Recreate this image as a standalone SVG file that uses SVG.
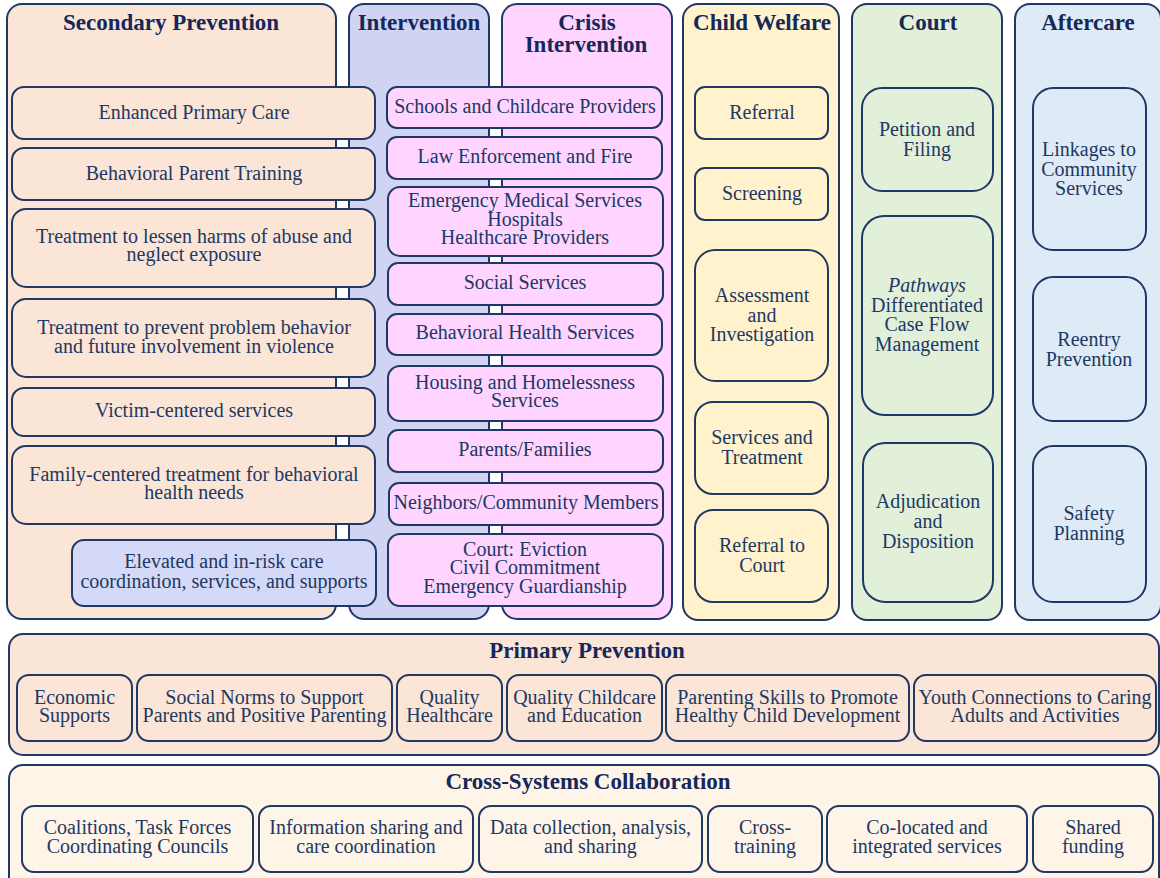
<svg xmlns="http://www.w3.org/2000/svg" width="1160" height="878" viewBox="0 0 1160 878">
<style>
.p{stroke:#203864;stroke-width:2}
.b{stroke:#203864;stroke-width:2}
.t{font-family:"Liberation Serif",serif;font-size:20px;fill:#203864;text-anchor:middle}
.h{font-family:"Liberation Serif",serif;font-size:23px;font-weight:bold;fill:#14285a;text-anchor:middle}
.sp{fill:#fbe5d6}.iv{fill:#d1d3f2}.ci{fill:#ffd5ff}.cw{fill:#fff2cc}.co{fill:#e2efd9}.af{fill:#deebf7}.cs{fill:#fef4e7}.el{fill:#d5d9f8}
</style>
<rect width="1160" height="878" fill="#ffffff"/>
<g id="panel-secondary"><rect class="p sp" x="7" y="4" width="329" height="615" rx="15"/><text class="h" x="171" y="30">Secondary Prevention</text></g>
<g id="panel-intervention"><rect class="p iv" x="349" y="4" width="140" height="615" rx="15"/><text class="h" x="419" y="30">Intervention</text></g>
<g id="panel-crisis"><rect class="p ci" x="502" y="4" width="170" height="615" rx="15"/><text class="h" x="587" y="30">Crisis</text><text class="h" x="586" y="52">Intervention</text></g>
<g id="panel-childwelfare"><rect class="p cw" x="683" y="4" width="156" height="616" rx="15"/><text class="h" x="762" y="30">Child Welfare</text></g>
<g id="panel-court"><rect class="p co" x="852" y="4" width="150" height="616" rx="15"/><text class="h" x="928" y="30">Court</text></g>
<g id="panel-aftercare"><rect class="p af" x="1015" y="4" width="146" height="616" rx="15"/><text class="h" x="1088" y="30">Aftercare</text></g>

<g id="sp1"><rect class="b sp" x="12" y="87" width="363" height="52" rx="12"/><text class="t" x="194" y="119">Enhanced Primary Care</text></g>
<g id="sp2"><rect class="b sp" x="12" y="148" width="363" height="52" rx="12"/><text class="t" x="194" y="180">Behavioral Parent Training</text></g>
<g id="sp3"><rect class="b sp" x="12" y="209" width="363" height="78" rx="14"/><text class="t" x="194" y="243">Treatment to lessen harms of abuse and</text><text class="t" x="194" y="261">neglect exposure</text></g>
<g id="sp4"><rect class="b sp" x="12" y="299" width="363" height="78" rx="14"/><text class="t" x="194" y="334">Treatment to prevent problem behavior</text><text class="t" x="194" y="353">and future involvement in violence</text></g>
<g id="sp5"><rect class="b sp" x="12" y="388" width="363" height="48" rx="12"/><text class="t" x="194" y="417">Victim-centered services</text></g>
<g id="sp6"><rect class="b sp" x="12" y="446" width="363" height="78" rx="14"/><text class="t" x="194" y="481">Family-centered treatment for behavioral</text><text class="t" x="194" y="499">health needs</text></g>
<g id="sp7"><rect class="b el" x="72" y="540" width="304" height="66" rx="12"/><text class="t" x="224" y="568">Elevated and in-risk care</text><text class="t" x="224" y="588">coordination, services, and supports</text></g>

<g id="ci1"><rect class="b ci" x="387" y="87" width="275" height="41" rx="10"/><text class="t" x="525" y="113">Schools and Childcare Providers</text></g>
<g id="ci2"><rect class="b ci" x="387" y="137" width="275" height="42" rx="10"/><text class="t" x="525" y="163">Law Enforcement and Fire</text></g>
<g id="ci3"><rect class="b ci" x="388" y="187" width="275" height="69" rx="12"/><text class="t" x="525" y="207">Emergency Medical Services</text><text class="t" x="525" y="226">Hospitals</text><text class="t" x="525" y="244">Healthcare Providers</text></g>
<g id="ci4"><rect class="b ci" x="388" y="263" width="275" height="42" rx="10"/><text class="t" x="525" y="289">Social Services</text></g>
<g id="ci5"><rect class="b ci" x="387" y="314" width="275" height="41" rx="10"/><text class="t" x="525" y="339">Behavioral Health Services</text></g>
<g id="ci6"><rect class="b ci" x="388" y="366" width="275" height="55" rx="12"/><text class="t" x="525" y="389">Housing and Homelessness</text><text class="t" x="525" y="407">Services</text></g>
<g id="ci7"><rect class="b ci" x="388" y="430" width="275" height="42" rx="10"/><text class="t" x="525" y="456">Parents/Families</text></g>
<g id="ci8"><rect class="b ci" x="389" y="483" width="274" height="42" rx="10"/><text class="t" x="526" y="509">Neighbors/Community Members</text></g>
<g id="ci9"><rect class="b ci" x="388" y="534" width="275" height="72" rx="12"/><text class="t" x="525" y="556">Court: Eviction</text><text class="t" x="525" y="574">Civil Commitment</text><text class="t" x="525" y="593">Emergency Guardianship</text></g>

<g id="cw1"><rect class="b cw" x="695" y="87" width="133" height="52" rx="10"/><text class="t" x="762" y="119">Referral</text></g>
<g id="cw2"><rect class="b cw" x="695" y="168" width="133" height="52" rx="10"/><text class="t" x="762" y="200">Screening</text></g>
<g id="cw3"><rect class="b cw" x="695" y="250" width="133" height="131" rx="20"/><text class="t" x="762" y="302">Assessment</text><text class="t" x="762" y="322">and</text><text class="t" x="762" y="341">Investigation</text></g>
<g id="cw4"><rect class="b cw" x="695" y="402" width="133" height="92" rx="18"/><text class="t" x="762" y="444">Services and</text><text class="t" x="762" y="464">Treatment</text></g>
<g id="cw5"><rect class="b cw" x="695" y="510" width="133" height="92" rx="18"/><text class="t" x="762" y="552">Referral to</text><text class="t" x="762" y="572">Court</text></g>

<g id="co1"><rect class="b co" x="862" y="88" width="131" height="103" rx="20"/><text class="t" x="927" y="136">Petition and</text><text class="t" x="927" y="156">Filing</text></g>
<g id="co2"><rect class="b co" x="862" y="216" width="131" height="199" rx="22"/><text class="t" x="927" y="292" font-style="italic">Pathways</text><text class="t" x="927" y="312">Differentiated</text><text class="t" x="927" y="331">Case Flow</text><text class="t" x="927" y="351">Management</text></g>
<g id="co3"><rect class="b co" x="863" y="443" width="130" height="159" rx="22"/><text class="t" x="928" y="508">Adjudication</text><text class="t" x="928" y="528">and</text><text class="t" x="928" y="548">Disposition</text></g>

<g id="af1"><rect class="b af" x="1033" y="88" width="113" height="162" rx="20"/><text class="t" x="1089" y="156">Linkages to</text><text class="t" x="1089" y="176">Community</text><text class="t" x="1089" y="195">Services</text></g>
<g id="af2"><rect class="b af" x="1033" y="277" width="113" height="144" rx="20"/><text class="t" x="1089" y="346">Reentry</text><text class="t" x="1089" y="366">Prevention</text></g>
<g id="af3"><rect class="b af" x="1033" y="446" width="113" height="156" rx="20"/><text class="t" x="1089" y="520">Safety</text><text class="t" x="1089" y="540">Planning</text></g>

<g id="panel-primary"><rect class="p sp" x="9" y="634" width="1150" height="121" rx="14"/><text class="h" x="587" y="658">Primary Prevention</text></g>
<g id="pp1"><rect class="b sp" x="17" y="675" width="115" height="66" rx="12"/><text class="t" x="74.5" y="704">Economic</text><text class="t" x="74.5" y="722">Supports</text></g>
<g id="pp2"><rect class="b sp" x="137" y="675" width="255" height="66" rx="12"/><text class="t" x="264.5" y="704">Social Norms to Support</text><text class="t" x="264.5" y="722">Parents and Positive Parenting</text></g>
<g id="pp3"><rect class="b sp" x="397" y="675" width="105" height="66" rx="12"/><text class="t" x="449.5" y="704">Quality</text><text class="t" x="449.5" y="722">Healthcare</text></g>
<g id="pp4"><rect class="b sp" x="507" y="675" width="155" height="66" rx="12"/><text class="t" x="584.5" y="704">Quality Childcare</text><text class="t" x="584.5" y="722">and Education</text></g>
<g id="pp5"><rect class="b sp" x="666" y="675" width="243" height="66" rx="12"/><text class="t" x="787.5" y="704">Parenting Skills to Promote</text><text class="t" x="787.5" y="722">Healthy Child Development</text></g>
<g id="pp6"><rect class="b sp" x="914" y="675" width="242" height="66" rx="12"/><text class="t" x="1035" y="704">Youth Connections to Caring</text><text class="t" x="1035" y="722">Adults and Activities</text></g>

<g id="panel-cross"><rect class="p cs" x="9" y="765" width="1150" height="140" rx="14"/><text class="h" x="588" y="789">Cross-Systems Collaboration</text></g>
<g id="cs1"><rect class="b cs" x="22" y="806" width="231" height="66" rx="12"/><text class="t" x="137.5" y="834">Coalitions, Task Forces</text><text class="t" x="137.5" y="853">Coordinating Councils</text></g>
<g id="cs2"><rect class="b cs" x="259" y="806" width="214" height="66" rx="12"/><text class="t" x="366" y="834">Information sharing and</text><text class="t" x="366" y="853">care coordination</text></g>
<g id="cs3"><rect class="b cs" x="479" y="806" width="223" height="66" rx="12"/><text class="t" x="590.5" y="834">Data collection, analysis,</text><text class="t" x="590.5" y="853">and sharing</text></g>
<g id="cs4"><rect class="b cs" x="708" y="806" width="114" height="66" rx="12"/><text class="t" x="765" y="834">Cross-</text><text class="t" x="765" y="853">training</text></g>
<g id="cs5"><rect class="b cs" x="827" y="806" width="200" height="66" rx="12"/><text class="t" x="927" y="834">Co-located and</text><text class="t" x="927" y="853">integrated services</text></g>
<g id="cs6"><rect class="b cs" x="1033" y="806" width="120" height="66" rx="12"/><text class="t" x="1093" y="834">Shared</text><text class="t" x="1093" y="853">funding</text></g>
<g id="connectors"/>
</svg>
